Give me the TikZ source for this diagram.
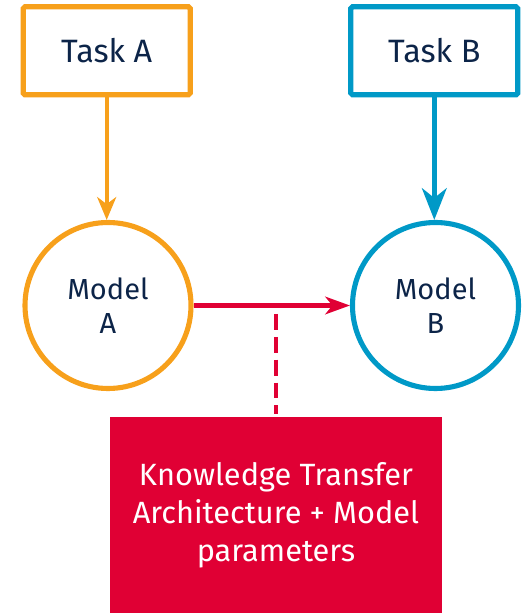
\documentclass[tikz,border=0pt]{standalone}
\usepackage{fontspec}
\setmainfont{Fira Sans}
\usetikzlibrary{arrows.meta}
\definecolor{taskorange}{RGB}{247,160,27}
\definecolor{taskblue}{RGB}{0,153,199}
\definecolor{transred}{RGB}{224,0,52}
\definecolor{navytext}{RGB}{12,36,72}
\tikzset{
  task/.style={draw, line width=3pt, rounded corners=1pt, minimum width=3.34cm, minimum height=1.76cm, text=navytext, font=\fontsize{18.4}{22}\selectfont},
  model/.style={circle, draw, line width=2.9pt, minimum size=3.32cm, inner sep=0pt, align=center, text=navytext, font=\fontsize{16.5}{19.4}\selectfont},
}
\begin{document}
\begin{tikzpicture}
\useasboundingbox (0,0) rectangle (10.46,12.26);

\node[task, taskorange](taskA) at (2.134,11.244){\textcolor{navytext}{Task A}};
\node[task, taskblue](taskB) at (8.686,11.244){\textcolor{navytext}{Task B}};

\node[model, taskorange](modelA) at (2.16,6.15){\textcolor{navytext}{Model}\\\textcolor{navytext}{A}};
\node[model, taskblue](modelB) at (8.71,6.15){\textcolor{navytext}{Model}\\\textcolor{navytext}{B}};

\node[fill=transred, minimum width=6.64cm, minimum height=3.92cm, align=center, text=white, font=\fontsize{17.5}{21.7}\selectfont](ktbox) at (5.52,1.96){Knowledge Transfer\\Architecture + Model\\parameters};

\draw[taskorange, line width=2.1pt, -{Stealth[length=13pt, width=10.8pt, inset=4pt]}](taskA.south)--(taskA.south |- modelA.north);
\draw[taskblue, line width=2.9pt, -{Stealth[length=18pt, width=14pt, inset=5.5pt]}](taskB.south)--(taskB.south |- modelB.north);

\draw[transred, line width=2.3pt, -{Stealth[length=14pt, width=10pt, inset=4pt]}](modelA.east)--(modelB.west);

\coordinate (dashtop) at (5.52,5.98);
\draw[transred, line width=2.3pt, dash pattern=on 9pt off 4pt, shorten >=0.06cm](dashtop)--(ktbox.north);

\end{tikzpicture}
\end{document}
